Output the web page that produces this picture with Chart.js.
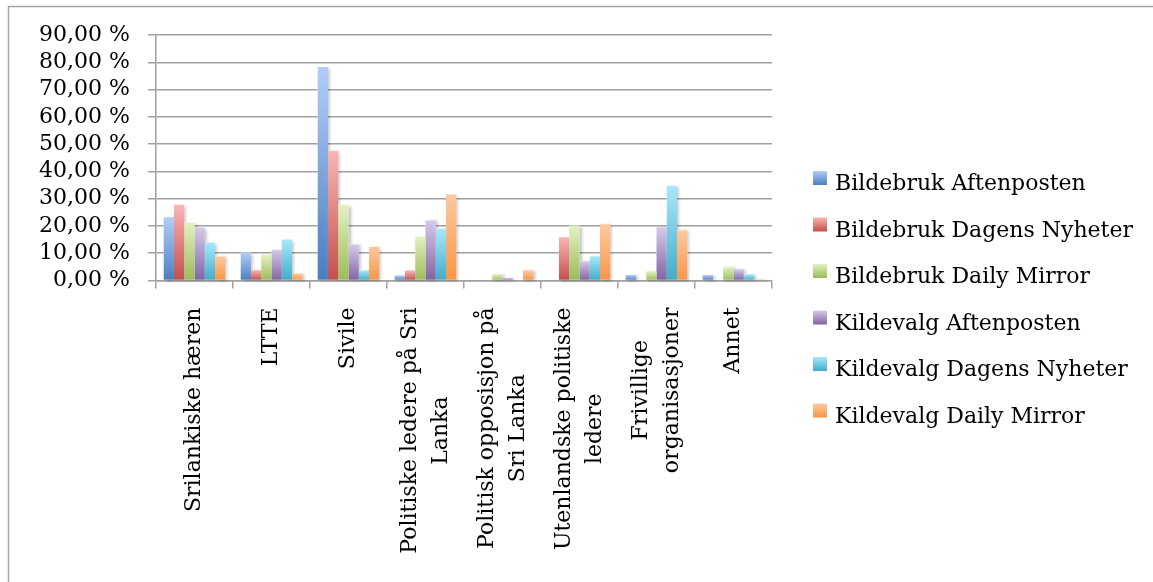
<!DOCTYPE html>
<html>
<head>
<meta charset="utf-8">
<script src="https://cdn.jsdelivr.net/npm/chart.js@4.4.0/dist/chart.umd.min.js"></script>
<style>
  html, body { margin: 0; padding: 0; background: #ffffff; }
  #wrap { width: 1153px; height: 582px; position: relative; }
</style>
</head>
<body>
<div id="wrap"><canvas id="c" width="1153" height="582"></canvas></div>
<script>
// ---- Data ----
const categories = [
  ["Srilankiske hæren"],
  ["LTTE"],
  ["Sivile"],
  ["Politiske ledere på Sri", "Lanka"],
  ["Politisk opposisjon på", "Sri Lanka"],
  ["Utenlandske politiske", "ledere"],
  ["Frivillige", "organisasjoner"],
  ["Annet"]
];
const seriesNames = [
  "Bildebruk Aftenposten",
  "Bildebruk Dagens Nyheter",
  "Bildebruk Daily Mirror",
  "Kildevalg Aftenposten",
  "Kildevalg Dagens Nyheter",
  "Kildevalg Daily Mirror"
];
const bildebrukAftenposten   = [23.2, 10.2, 78.3, 1.8, 0,   0,    2.0, 2.0];
const bildebrukDagensNyheter = [27.8, 3.8,  47.6, 3.7, 0,   15.9, 0,   0];
const bildebrukDailyMirror   = [21.2, 9.5,  27.8, 16.1, 2.3, 20.1, 3.4, 4.9];
const kildevalgAftenposten   = [19.4, 11.3, 13.2, 22.0, 0.9, 7.1, 19.5, 4.1];
const kildevalgDagensNyheter = [13.9, 15.0, 3.7,  19.0, 0,   8.9, 34.6, 2.3];
const kildevalgDailyMirror   = [8.8,  2.6,  12.4, 31.5, 3.8, 20.6, 18.4, 0.5];
const yTickLabels = ["0,00 %","10,00 %","20,00 %","30,00 %","40,00 %","50,00 %","60,00 %","70,00 %","80,00 %","90,00 %"];

// ---- Styles ----
const palette = [
  ["#b3cdf8", "#4a7ebf"],
  ["#f9b6b4", "#c24f4c"],
  ["#e2f2c0", "#9bbb59"],
  ["#d6c9e9", "#8064a2"],
  ["#a9e8fb", "#41acc9"],
  ["#fdc9a0", "#f79646"]
];
const FONT = '"DejaVu Serif", serif';
const FONT_SIZE = 22;

function barGradient(ctx, idx) {
  const [top, bot] = palette[idx];
  const chart = ctx.chart;
  if (!chart.chartArea || ctx.type !== 'data' || !chart.scales.y) return bot;
  const ys = chart.scales.y;
  const y1 = ys.getPixelForValue(ctx.raw);
  const y0 = ys.getPixelForValue(0);
  if (!(y0 > y1)) return bot;
  const g = chart.ctx.createLinearGradient(0, y1, 0, y0);
  g.addColorStop(0, top);
  g.addColorStop(1, bot);
  return g;
}

const seriesValues = [
  bildebrukAftenposten, bildebrukDagensNyheter, bildebrukDailyMirror,
  kildevalgAftenposten, kildevalgDagensNyheter, kildevalgDailyMirror
];

const datasets = seriesValues.map((vals, i) => ({
  label: seriesNames[i],
  data: vals,
  backgroundColor: (c) => barGradient(c, i),
  borderWidth: 0,
  barPercentage: 1.0,
  categoryPercentage: 0.8
}));

const frame = {
  id: 'frame',
  beforeDraw(chart) {
    const ctx = chart.ctx;
    ctx.save();
    ctx.strokeStyle = '#a6a6a6';
    ctx.lineWidth = 1.5;
    ctx.beginPath();
    ctx.moveTo(8.5, 582);
    ctx.lineTo(8.5, 6.5);
    ctx.lineTo(1153, 6.5);
    ctx.stroke();
    ctx.restore();
  }
};

// soft drop shadow painted beneath all bars
const barShadow = {
  id: 'barShadow',
  beforeDatasetsDraw(chart) {
    const ctx = chart.ctx;
    ctx.save();
    ctx.shadowColor = 'rgba(0,0,0,0.25)';
    ctx.shadowBlur = 3;
    ctx.shadowOffsetX = 2;
    ctx.shadowOffsetY = 1;
    ctx.fillStyle = '#ffffff';
    chart.data.datasets.forEach((ds, i) => {
      chart.getDatasetMeta(i).data.forEach(el => {
        const p = el.getProps(['x', 'y', 'base', 'width'], true);
        if (p.base - p.y > 0.5) ctx.fillRect(p.x - p.width / 2, p.y, p.width, p.base - p.y);
      });
    });
    ctx.restore();
  }
};

const xLabels = {
  id: 'xLabels',
  afterDraw(chart) {
    const ctx = chart.ctx;
    const xs = chart.scales.x;
    const labelTop = xs.top + 27;
    const lineH = 31;
    ctx.save();
    ctx.font = FONT_SIZE + 'px ' + FONT;
    ctx.fillStyle = '#000000';
    ctx.textAlign = 'center';
    ctx.textBaseline = 'middle';
    categories.forEach((lines, i) => {
      const cx = xs.getPixelForValue(i);
      const W = Math.max(...lines.map(l => ctx.measureText(l).width));
      const cy = labelTop + W / 2;
      ctx.save();
      ctx.translate(cx, cy);
      ctx.rotate(-Math.PI / 2);
      const n = lines.length;
      lines.forEach((l, j) => ctx.fillText(l, 0, (j - (n - 1) / 2) * lineH));
      ctx.restore();
    });
    ctx.restore();
  }
};

const legendPlugin = {
  id: 'customLegend',
  afterDraw(chart) {
    const ctx = chart.ctx;
    ctx.save();
    ctx.font = FONT_SIZE + 'px ' + FONT;
    ctx.textAlign = 'left';
    ctx.textBaseline = 'alphabetic';
    chart.data.datasets.forEach((ds, i) => {
      const base = 190 + i * 46.5;
      const bx = 813, by = base - 19, bs = 14;
      const g = ctx.createLinearGradient(0, by, 0, by + bs);
      g.addColorStop(0, palette[i][0]);
      g.addColorStop(1, palette[i][1]);
      ctx.fillStyle = g;
      ctx.fillRect(bx, by, bs, bs);
      ctx.fillStyle = '#000000';
      ctx.fillText(ds.label, 835, base);
    });
    ctx.restore();
  }
};

new Chart(document.getElementById('c'), {
  type: 'bar',
  data: { labels: categories.map(c => c.join(' ')), datasets },
  options: {
    responsive: false,
    animation: false,
    devicePixelRatio: 1,
    layout: { padding: { left: 10, top: 35, right: 381, bottom: 0 } },
    plugins: {
      legend: { display: false },
      tooltip: { enabled: false },
      title: { display: false }
    },
    scales: {
      x: {
        offset: true,
        grid: {
          offset: true,
          drawOnChartArea: false,
          drawTicks: true,
          tickLength: 8,
          color: '#a0a0a0',
          lineWidth: 1.5
        },
        border: { display: true, color: '#a0a0a0', width: 1.5 },
        ticks: { display: false },
        afterFit(scale) { scale.height = 582 - 280.5; }
      },
      y: {
        min: 0,
        max: 90,
        ticks: {
          stepSize: 10,
          autoSkip: false,
          padding: 18,
          color: '#000000',
          font: { family: FONT, size: FONT_SIZE, lineHeight: 1.0 },
          callback: (v) => yTickLabels[Math.round(v / 10)]
        },
        grid: {
          color: '#a0a0a0',
          lineWidth: 1.5,
          drawTicks: true,
          tickLength: 8
        },
        border: { display: true, color: '#a0a0a0', width: 1.5 },
        afterFit(scale) { scale.width = 146; }
      }
    }
  },
  plugins: [frame, barShadow, xLabels, legendPlugin]
});
</script>
</body>
</html>
